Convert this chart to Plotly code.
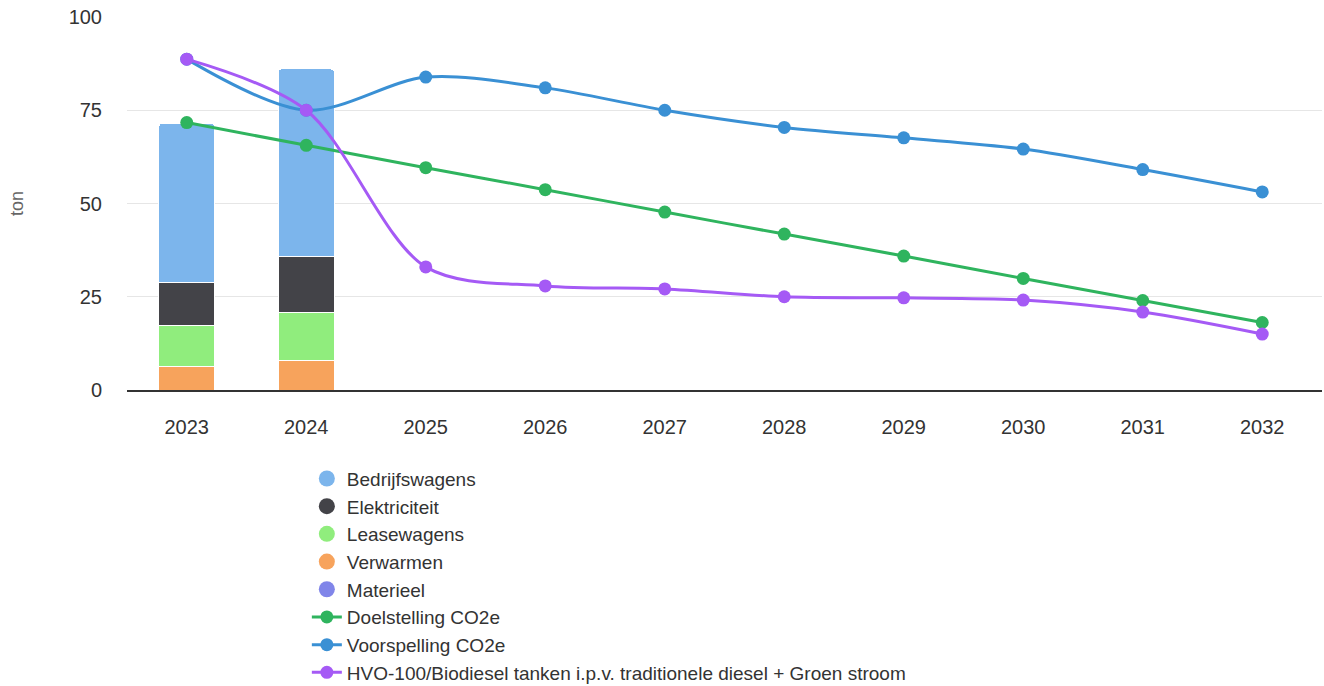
import plotly.graph_objects as go

years = ["2023", "2024", "2025", "2026", "2027", "2028", "2029", "2030", "2031", "2032"]

# Stacked emissions per source (ton), only measured years
bar_years = ["2023", "2024"]
verwarmen = [6.4, 7.8]
leasewagens = [10.8, 13.1]
elektriciteit = [11.5, 14.8]
bedrijfswagens = [42.8, 50.4]
materieel = [0, 0]

# Trajectories (ton CO2e)
doelstelling = [71.7, 65.6, 59.6, 53.7, 47.7, 41.8, 35.9, 29.9, 24.0, 18.1]
voorspelling = [88.7, 75.0, 83.9, 81.0, 75.0, 70.4, 67.6, 64.6, 59.1, 53.1]
hvo = [88.7, 75.0, 33.0, 27.9, 27.1, 25.0, 24.7, 24.1, 20.9, 15.0]

y_ticks = [0, 25, 50, 75, 100]

bar_series = [
    ("Verwarmen", verwarmen, "#f7a35c"),
    ("Leasewagens", leasewagens, "#90ed7d"),
    ("Elektriciteit", elektriciteit, "#434348"),
    ("Bedrijfswagens", bedrijfswagens, "#7cb5ec"),
    ("Materieel", materieel, "#8085e9"),
]
legend_order = ["Bedrijfswagens", "Elektriciteit", "Leasewagens", "Verwarmen", "Materieel"]

fig = go.Figure()

for name, vals, color in bar_series:
    fig.add_trace(go.Bar(
        x=bar_years, y=vals, name=name, legendgroup=name, showlegend=False,
        marker=dict(color=color, line=dict(color="white", width=1)),
        width=0.47,
    ))

# circular legend swatches for the stacked sources
colors = {n: c for n, _, c in bar_series}
for name in legend_order:
    fig.add_trace(go.Scatter(
        x=[None], y=[None], mode="markers", name=name, legendgroup=name,
        marker=dict(color=colors[name], size=18, symbol="circle"),
    ))

line_series = [
    ("Doelstelling CO2e", doelstelling, "#2fb45e"),
    ("Voorspelling CO2e", voorspelling, "#3a90d4"),
    ("HVO-100/Biodiesel tanken i.p.v. traditionele diesel + Groen stroom", hvo, "#a55af5"),
]
for name, vals, color in line_series:
    fig.add_trace(go.Scatter(
        x=years, y=vals, name=name, mode="lines+markers",
        line=dict(color=color, width=3, shape="spline", smoothing=0.9),
        marker=dict(color=color, size=13),
    ))

fig.update_layout(
    width=1324, height=686,
    margin=dict(l=127, r=2, t=17, b=296, autoexpand=False),
    barmode="stack",
    barcornerradius=4,
    plot_bgcolor="white", paper_bgcolor="white",
    font=dict(family="Liberation Sans, Arial, sans-serif", size=20, color="#333333"),
    showlegend=True,
    legend=dict(
        orientation="v", xref="paper", x=0.1505, xanchor="left",
        yref="container", y=0.33, yanchor="top",
        font=dict(size=19, color="#333333"), tracegroupgap=0, itemsizing="trace",
        bgcolor="rgba(0,0,0,0)",
    ),
    xaxis=dict(
        type="category", categoryorder="array", categoryarray=years,
        range=[-0.5, 9.5], showgrid=False, showline=True, linecolor="#333333",
        linewidth=1.5, ticks="", tickfont=dict(size=20, color="#333333"),
        ticklabelstandoff=18,
    ),
    yaxis=dict(
        range=[0, 100], tickvals=y_ticks, gridcolor="#e6e6e6", gridwidth=1,
        zeroline=False, showline=False, tickfont=dict(size=20, color="#333333"),
        ticklabelstandoff=24,
        title=dict(text="ton", font=dict(size=18, color="#666666"), standoff=40),
    ),
)

fig.write_html("out.html")
